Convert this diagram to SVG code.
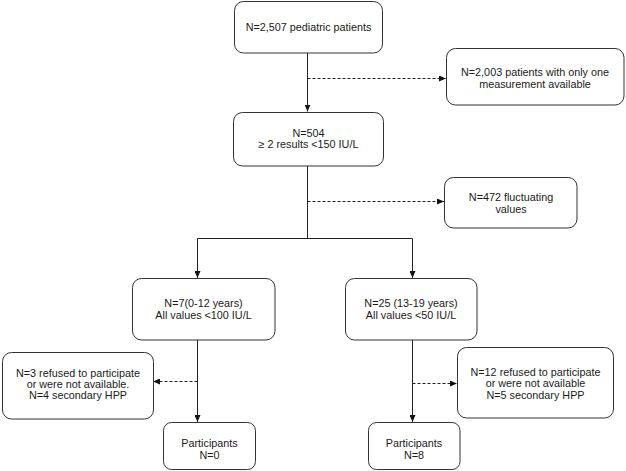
<svg xmlns="http://www.w3.org/2000/svg" width="626" height="471" viewBox="0 0 626 471">
  <style>
    .box { fill: #ffffff; stroke: #333333; stroke-width: 1; }
    .t { font-family: "Liberation Sans", Arial, sans-serif; font-size: 10.8px; fill: #1a1a1a; text-anchor: middle; }
    .solid { stroke: #222222; stroke-width: 1; fill: none; }
    .dash { stroke: #222222; stroke-width: 1; fill: none; stroke-dasharray: 3 2; }
  </style>
  <defs>
    <marker id="arr" markerUnits="userSpaceOnUse" markerWidth="7" markerHeight="6" refX="7" refY="3" orient="auto">
      <path d="M0,0 L7,3 L0,6 z" fill="#111111"/>
    </marker>
  </defs>
  <rect width="626" height="471" fill="#ffffff"/>

  <g id="connectors">
    <line class="solid" x1="307.5" y1="53" x2="307.5" y2="111.5" marker-end="url(#arr)"/>
    <line class="dash" x1="307.5" y1="78.5" x2="446" y2="78.5" marker-end="url(#arr)"/>
    <line class="solid" x1="307.5" y1="166" x2="307.5" y2="238.5"/>
    <line class="dash" x1="307.5" y1="201.5" x2="444" y2="201.5" marker-end="url(#arr)"/>
    <line class="solid" x1="197.5" y1="238.5" x2="412.5" y2="238.5"/>
    <line class="solid" x1="197.5" y1="238.5" x2="197.5" y2="278" marker-end="url(#arr)"/>
    <line class="solid" x1="412.5" y1="238.5" x2="412.5" y2="278" marker-end="url(#arr)"/>
    <line class="solid" x1="197.5" y1="340" x2="197.5" y2="422" marker-end="url(#arr)"/>
    <line class="dash" x1="197.5" y1="381.5" x2="153" y2="381.5" marker-end="url(#arr)"/>
    <line class="solid" x1="412.5" y1="340" x2="412.5" y2="422" marker-end="url(#arr)"/>
    <line class="dash" x1="412.5" y1="383.5" x2="457" y2="383.5" marker-end="url(#arr)"/>
  </g>

  <g id="n-total">
    <rect class="box" x="234.5" y="1.5" width="148" height="51.5" rx="9"/>
    <text class="t" x="308.5" y="31">N=2,507 pediatric patients</text>
  </g>

  <g id="n-excluded-one">
    <rect class="box" x="446.5" y="48.5" width="177.5" height="56.5" rx="9"/>
    <text class="t" x="535" y="75.5">N=2,003 patients with only one</text>
    <text class="t" x="535" y="87.5">measurement available</text>
  </g>

  <g id="n-504">
    <rect class="box" x="233.5" y="112.5" width="150" height="53.5" rx="9"/>
    <text class="t" x="308.5" y="136.5">N=504</text>
    <text class="t" x="308.5" y="147.5">≥ 2 results &lt;150 IU/L</text>
  </g>

  <g id="n-472">
    <rect class="box" x="444.5" y="177.5" width="132.5" height="50.5" rx="9"/>
    <text class="t" x="511" y="200.5">N=472 fluctuating</text>
    <text class="t" x="511" y="212.5">values</text>
  </g>

  <g id="n-7">
    <rect class="box" x="132.5" y="278.5" width="142.5" height="61.5" rx="9"/>
    <text class="t" x="203.5" y="306.5">N=7(0-12 years)</text>
    <text class="t" x="203.5" y="318.5">All values &lt;100 IU/L</text>
  </g>

  <g id="n-25">
    <rect class="box" x="345.5" y="278.5" width="131.5" height="61.5" rx="9"/>
    <text class="t" x="411" y="306.5">N=25 (13-19 years)</text>
    <text class="t" x="411" y="318.5">All values &lt;50 IU/L</text>
  </g>

  <g id="n-left-excluded">
    <rect class="box" x="2.5" y="352.5" width="151" height="66.5" rx="9"/>
    <text class="t" x="78" y="376.5">N=3 refused to participate</text>
    <text class="t" x="78" y="387.5">or were not available.</text>
    <text class="t" x="78" y="398.5">N=4 secondary HPP</text>
  </g>

  <g id="n-right-excluded">
    <rect class="box" x="457.5" y="347.5" width="156" height="70.5" rx="9"/>
    <text class="t" x="535.5" y="375.5">N=12 refused to participate</text>
    <text class="t" x="535.5" y="387">or were not available</text>
    <text class="t" x="535.5" y="398.5">N=5 secondary HPP</text>
  </g>

  <g id="n-participants-0">
    <rect class="box" x="163.5" y="422.5" width="92" height="47" rx="8"/>
    <text class="t" x="209.5" y="446.5">Participants</text>
    <text class="t" x="209.5" y="458.5">N=0</text>
  </g>

  <g id="n-participants-8">
    <rect class="box" x="368.5" y="422.5" width="91.5" height="47" rx="8"/>
    <text class="t" x="414" y="446.5">Participants</text>
    <text class="t" x="414" y="458.5">N=8</text>
  </g>
</svg>
